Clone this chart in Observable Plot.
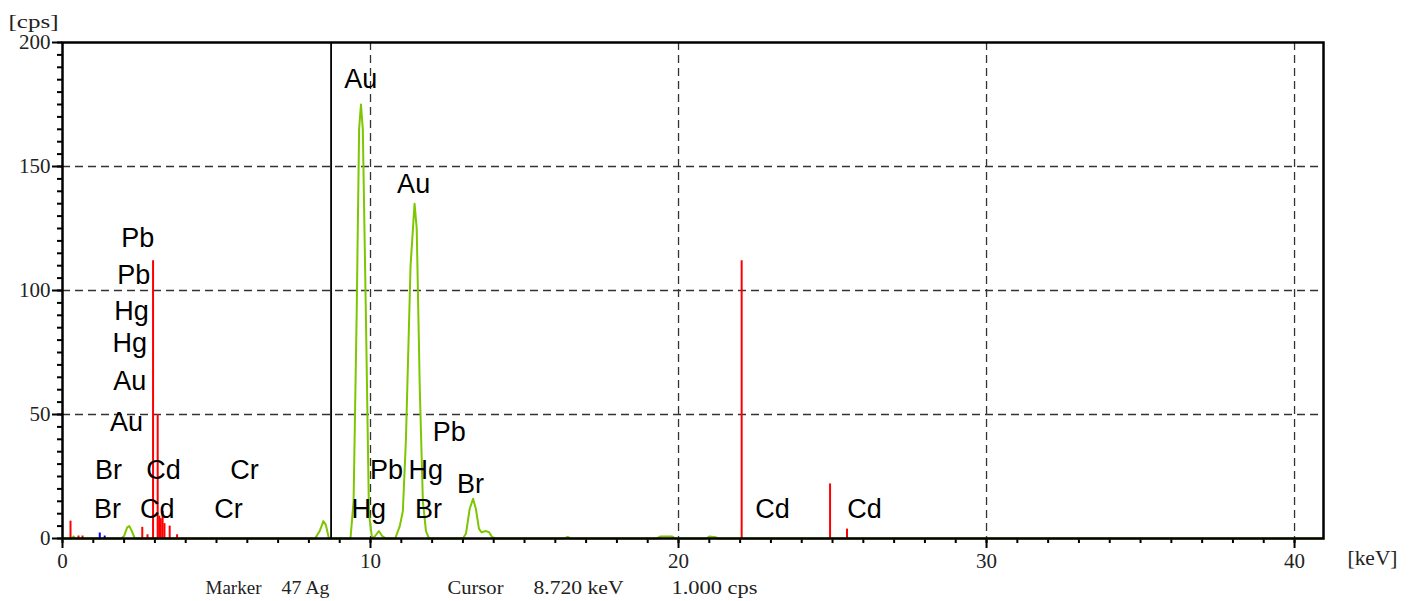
<!DOCTYPE html>
<html>
<head>
<meta charset="utf-8">
<script src="https://cdn.jsdelivr.net/npm/d3@7"></script>
<script src="https://cdn.jsdelivr.net/npm/@observablehq/plot@0.6"></script>
<style>
  html, body { margin: 0; padding: 0; background: #fff; }
  #chart svg { display: block; }
</style>
</head>
<body>
<div id="chart"></div>
<script>
// ---- Data ----
// Green measured spectrum (keV, cps)
const specKeV = [0, 0.3, 0.36, 0.42, 1.9, 2.0, 2.1, 2.17, 2.25, 2.35, 8.2, 8.35, 8.47, 8.55, 8.65,
  9.35, 9.45, 9.55, 9.63, 9.69, 9.75, 9.85, 9.95, 10.05, 10.15, 10.27, 10.38, 10.5,
  10.8, 10.95, 11.05, 11.15, 11.3, 11.43, 11.5, 11.6, 11.7, 11.8, 11.9,
  13.0, 13.1, 13.22, 13.33, 13.42, 13.52, 13.6, 13.75, 13.85, 13.95, 14.1,
  16.3, 16.4, 16.5, 19.3, 19.4, 19.8, 19.9, 20.9, 21.0, 21.2, 21.3, 40.94];
const specCps = [0, 0, 0.8, 0, 0, 1, 4.5, 5, 3, 0, 0, 3, 7, 5.5, 0,
  0, 15, 90, 165, 175, 165, 90, 10, 0, 1, 3, 1, 0,
  0, 5, 11, 40, 110, 135, 125, 60, 15, 3, 0,
  0, 2, 12, 16, 12, 4, 2.5, 3, 2.5, 0.5, 0,
  0, 0.6, 0, 0, 0.8, 0.8, 0, 0, 0.8, 0.5, 0, 0];

// Red marker lines (Ag)
const redKeV = [0.26, 0.52, 0.65, 2.59, 2.76, 2.94, 3.09, 3.14, 3.19, 3.25, 3.31, 3.48, 3.72, 22.05, 24.92, 25.47];
const redCps = [7, 1, 1, 4.5, 1.5, 112, 50, 9, 8, 11, 6, 5, 1.5, 112, 22, 3.8];

// Blue lines
const blueKeV = [1.21, 1.37];
const blueCps = [2.2, 1];

// Element labels
const labelText = ["Au", "Au", "Pb", "Pb", "Hg", "Hg", "Au", "Au", "Br", "Br", "Cd", "Cd", "Cr", "Cr",
  "Pb", "Pb", "Hg", "Br", "Hg", "Br", "Cd", "Cd"];
const labelKeV = [9.68, 11.4, 2.44, 2.31, 2.24, 2.18, 2.18, 2.08, 1.49, 1.46, 3.28, 3.08, 5.91, 5.39,
  12.56, 10.52, 11.79, 13.25, 9.94, 11.88, 23.05, 26.04];
const labelCps = [185, 142.7, 121, 106, 91.5, 78.6, 63.3, 46.8, 27.4, 11.7, 27.4, 11.7, 27.4, 11.7,
  42.7, 27.4, 27.4, 21.8, 11.7, 11.7, 11.7, 11.7];

const cursorKeV = 8.72;
const xMajor = [0, 10, 20, 30, 40];
const xMinor = d3.range(0, 41, 1);
const yMajor = [0, 50, 100, 150, 200];
const yMinor = d3.range(0, 201, 5);
const gridXVals = [10, 20, 30, 40];
const gridYVals = [50, 100, 150];

const captionText = ["Marker", "47 Ag", "Cursor", "8.720 keV", "1.000 cps"];
const captionDx = [143, 219, 385, 471, 609];

// ---- Build tables ----
const spectrum = specKeV.map((k, i) => ({k, c: specCps[i]}));
const red = redKeV.map((k, i) => ({k, c: redCps[i]}));
const blue = blueKeV.map((k, i) => ({k, c: blueCps[i]}));
const labels = labelText.map((t, i) => ({t, k: labelKeV[i], c: labelCps[i]}));

const serif = "'Liberation Serif', 'DejaVu Serif', serif";
const sans = "'Liberation Sans', Arial, sans-serif";

const captionMarks = captionText.map((t, i) =>
  Plot.text([t], {frameAnchor: "bottom-left", dx: captionDx[i], dy: 55, textAnchor: "start",
    fontSize: 19, fontFamily: serif, fill: "#222"}));

const chart = Plot.plot({
  width: 1414,
  height: 601,
  marginLeft: 62,
  marginRight: 91,
  marginTop: 42,
  marginBottom: 63,
  x: {domain: [0, 40.94]},
  y: {domain: [0, 200]},
  style: {background: "#fff", overflow: "visible"},
  marks: [
    Plot.ruleX(gridXVals, {stroke: "#333", strokeWidth: 1.3, strokeDasharray: "8,5"}),
    Plot.ruleY(gridYVals, {stroke: "#333", strokeWidth: 1.3, strokeDasharray: "8,5"}),
    Plot.axisX(xMinor, {tickSize: 5, text: null, label: null, strokeWidth: 2, stroke: "#000"}),
    Plot.axisX(xMajor, {tickSize: 10, tickPadding: 5, label: null, strokeWidth: 2, stroke: "#000",
      fontSize: 21, fontFamily: serif, fill: "#222", tickFormat: d => String(d)}),
    Plot.axisY(yMinor, {tickSize: 5, text: null, label: null, strokeWidth: 2, stroke: "#000"}),
    Plot.axisY(yMajor, {tickSize: 10, tickPadding: 2, label: null, strokeWidth: 2, stroke: "#000",
      fontSize: 21, fontFamily: serif, fill: "#222", tickFormat: d => String(d)}),
    Plot.line(spectrum, {x: "k", y: "c", stroke: "#7dc600", strokeWidth: 2, curve: "linear"}),
    Plot.ruleX(red, {x: "k", y1: 0, y2: "c", stroke: "#ff0000", strokeWidth: 2}),
    Plot.ruleX(blue, {x: "k", y1: 0, y2: "c", stroke: "#0000ff", strokeWidth: 2}),
    Plot.ruleX([cursorKeV], {stroke: "#000", strokeWidth: 1.8}),
    Plot.text(labels, {x: "k", y: "c", text: "t", fontSize: 27, fontFamily: sans, fill: "#000",
      textAnchor: "middle", lineAnchor: "middle"}),
    Plot.frame({stroke: "#000", strokeWidth: 2.5}),
    Plot.text(["[cps]"], {frameAnchor: "top-left", dx: -54, dy: -28, textAnchor: "start",
      fontSize: 19, fontFamily: serif, fill: "#222"}),
    Plot.text(["[keV]"], {frameAnchor: "bottom-right", dx: 24, dy: 26, textAnchor: "start",
      fontSize: 20, fontFamily: serif, fill: "#222"}),
    ...captionMarks
  ]
});
document.getElementById("chart").appendChild(chart);

// Widen the unit and caption texts to the half-width spacing of the original font
const widths = {"[cps]": 50, "[keV]": 50, "Marker": 56, "47 Ag": 48, "Cursor": 56, "8.720 keV": 90, "1.000 cps": 86};
d3.select(chart).selectAll("text").each(function () {
  const t = this.textContent;
  if (widths[t] && this.childElementCount === 0) {
    this.setAttribute("textLength", widths[t]);
    this.setAttribute("lengthAdjust", "spacingAndGlyphs");
  }
});
</script>
</body>
</html>
